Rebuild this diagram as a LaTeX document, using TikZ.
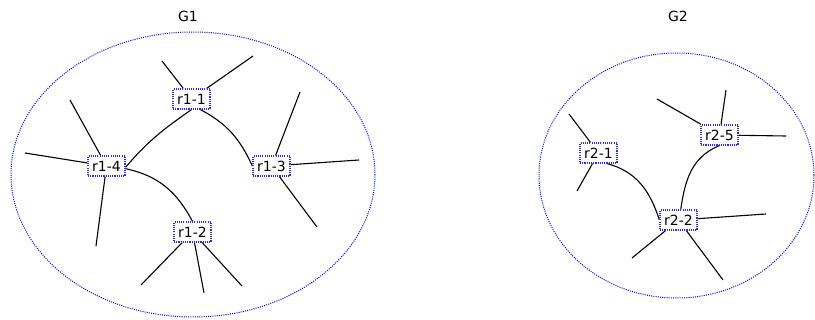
\documentclass[tikz,border=0pt]{standalone}
\usepackage{fontspec}
\setmainfont{DejaVu Sans}
\pgfdeclarelayer{background}
\pgfsetlayers{background,main}
\definecolor{dotblue}{RGB}{40,40,255}
\begin{document}
\begin{tikzpicture}[x=1pt,y=-1pt,
  rnode/.style={draw=dotblue,line width=1.2pt,dash pattern=on 1.1pt off 1.1pt,fill=white,
    minimum width=37pt,minimum height=20pt,inner sep=0pt,font=\fontsize{14}{16}\selectfont},
  grp/.style={draw=blue,line width=1pt,dash pattern=on 1pt off 1.2pt},
  edge/.style={line width=1.1pt,black},
  lbl/.style={font=\fontsize{14}{16}\selectfont}]
\useasboundingbox (0,0) rectangle (815,320);
\node[lbl] (g1) at (188,16) {G1};
\node[lbl] (g2) at (678,16) {G2};
% free ends
\coordinate (a1) at (162,61);
\coordinate (a2) at (253,56);
\coordinate (b1) at (70,100);
\coordinate (b2) at (25,153);
\coordinate (b3) at (96,246);
\coordinate (c1) at (300,92);
\coordinate (c2) at (359,160);
\coordinate (c3) at (317,227);
\coordinate (d1) at (141,285);
\coordinate (d2) at (204,293);
\coordinate (d3) at (242,286);
\coordinate (e1) at (569,114);
\coordinate (e2) at (577,191);
\coordinate (f1) at (657,99);
\coordinate (f2) at (726,90);
\coordinate (f3) at (786,136);
\coordinate (h1) at (766,214);
\coordinate (h2) at (632,258);
\coordinate (h3) at (723,280);
% nodes
\node[rnode] (r11) at (191.5,99) {r1-1};
\node[rnode] (r14) at (106.5,166) {r1-4};
\node[rnode] (r13) at (271.5,166) {r1-3};
\node[rnode] (r12) at (192.5,232) {r1-2};
\node[rnode] (r21) at (598.5,153) {r2-1};
\node[rnode] (r25) at (719.5,135) {r2-5};
\node[rnode] (r22) at (678.5,220) {r2-2};
\begin{pgfonlayer}{background}
% groups
\draw[grp] (193,174.5) ellipse [x radius=182, y radius=142.5];
\draw[grp] (676.5,175.5) ellipse [x radius=137.5, y radius=122.5];
% stubs
\draw[edge] (r11) -- (a1);
\draw[edge] (r11) -- (a2);
\draw[edge] (r14) -- (b1);
\draw[edge] (r14) -- (b2);
\draw[edge] (r14) -- (b3);
\draw[edge] (r13) -- (c1);
\draw[edge] (r13) -- (c2);
\draw[edge] (r13) -- (c3);
\draw[edge] (r12) -- (d1);
\draw[edge] (r12) -- (d2);
\draw[edge] (r12) -- (d3);
\draw[edge] (r21) -- (e1);
\draw[edge] (r21) -- (e2);
\draw[edge] (r25) -- (f1);
\draw[edge] (r25) -- (f2);
\draw[edge] (r25) -- (f3);
\draw[edge] (r22) -- (h1);
\draw[edge] (r22) -- (h2);
\draw[edge] (r22) -- (h3);
% curved links
\draw[edge] (r14.-4) .. controls +(21.9,-26) and +(-27.9,19.5) .. (r11.south);
\draw[edge] (r11.-50) .. controls +(26.8,14.2) and +(-12.8,-27.5) .. (r13.west);
\draw[edge] (r14.-8) .. controls +(32.8,7) and +(-15.7,-29.6) .. (r12.north);
\draw[edge] (r21.-51) .. controls +(29.5,7.9) and +(-9.4,-29) .. (r22.west);
\draw[edge] (r22.78) .. controls +(4.2,-29.6) and +(-27.7,11.2) .. (r25.south);
\end{pgfonlayer}
\end{tikzpicture}
\end{document}
